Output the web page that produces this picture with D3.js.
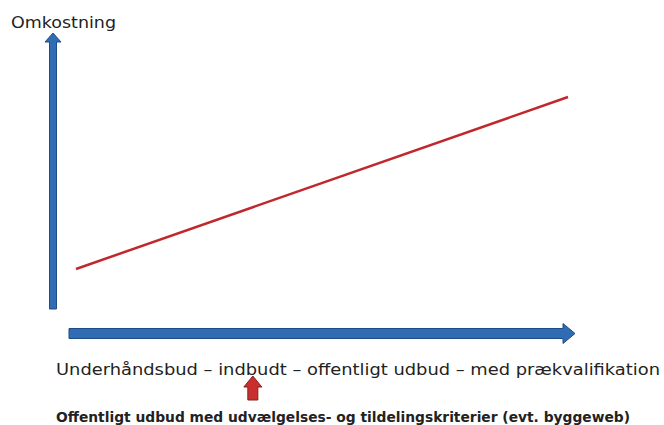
<!DOCTYPE html>
<html>
<head>
<meta charset="utf-8">
<script src="https://cdn.jsdelivr.net/npm/d3@7"></script>
<style>
  body { margin: 0; background: #fff; }
  svg { display: block; }
</style>
</head>
<body>
<div id="chart"></div>
<script>
// conceptual chart: cost rises with the procurement form
const yLabel = "Omkostning";
const xLabel = "Underhåndsbud – indbudt – offentligt udbud – med prækvalifikation";
const markerLabel = "Offentligt udbud med udvælgelses- og tildelingskriterier (evt. byggeweb)";
const lineX = [0, 1];
const lineY = [0.145, 0.768];
const markerX = [0.37];

const width = 664, height = 425;

const svg = d3.select("#chart").append("svg")
    .attr("width", width)
    .attr("height", height);

const x = d3.scaleLinear().domain([0, 1]).range([76, 568]);
const y = d3.scaleLinear().domain([0, 1]).range([309, 33]);

const blue = "#2f6cb4", blueDark = "#1d4c86";

// vertical axis arrow
const vx = 53;
svg.append("path")
    .attr("d", `M${vx - 3.5},309 L${vx - 3.5},42 L${vx - 8},42 L${vx},33 L${vx + 8},42 L${vx + 3.5},42 L${vx + 3.5},309 Z`)
    .attr("fill", blue)
    .attr("stroke", blueDark)
    .attr("stroke-width", 1);

// horizontal axis arrow
const hy = 333.5;
svg.append("path")
    .attr("d", `M69,${hy - 5} L563,${hy - 5} L563,${hy - 10} L575,${hy} L563,${hy + 10} L563,${hy + 5} L69,${hy + 5} Z`)
    .attr("fill", blue)
    .attr("stroke", blueDark)
    .attr("stroke-width", 1);

// cost line
const line = d3.line()
    .x((d, i) => x(lineX[i]))
    .y(d => y(d));

svg.append("path")
    .datum(lineY)
    .attr("d", line)
    .attr("fill", "none")
    .attr("stroke", "#c0282d")
    .attr("stroke-width", 2.5);

// labels
svg.append("text")
    .attr("x", 11)
    .attr("y", 28)
    .attr("font-family", "DejaVu Sans, Verdana, sans-serif")
    .attr("font-size", 16)
    .attr("fill", "#222")
    .attr("textLength", 105)
    .attr("lengthAdjust", "spacingAndGlyphs")
    .text(yLabel);

svg.append("text")
    .attr("x", 56)
    .attr("y", 375)
    .attr("font-family", "DejaVu Sans, Verdana, sans-serif")
    .attr("font-size", 16.5)
    .attr("fill", "#222")
    .attr("textLength", 604)
    .attr("lengthAdjust", "spacingAndGlyphs")
    .text(xLabel);

// red marker arrow
markerX.forEach(m => {
    const mx = d3.scaleLinear().domain([0, 1]).range([x(0) - 20, x(1) + 20])(m);
    svg.append("path")
        .attr("d", `M${mx - 5},400 L${mx - 5},387 L${mx - 9},387 L${mx},376 L${mx + 9},387 L${mx + 5},387 L${mx + 5},400 Z`)
        .attr("fill", "#c8302e")
        .attr("stroke", "#8a1c1c")
        .attr("stroke-width", 1);
});

svg.append("text")
    .attr("x", 56)
    .attr("y", 422)
    .attr("font-family", "DejaVu Sans, Verdana, sans-serif")
    .attr("font-size", 13.5)
    .attr("font-weight", "bold")
    .attr("fill", "#222")
    .attr("textLength", 574)
    .attr("lengthAdjust", "spacingAndGlyphs")
    .text(markerLabel);
</script>
</body>
</html>
